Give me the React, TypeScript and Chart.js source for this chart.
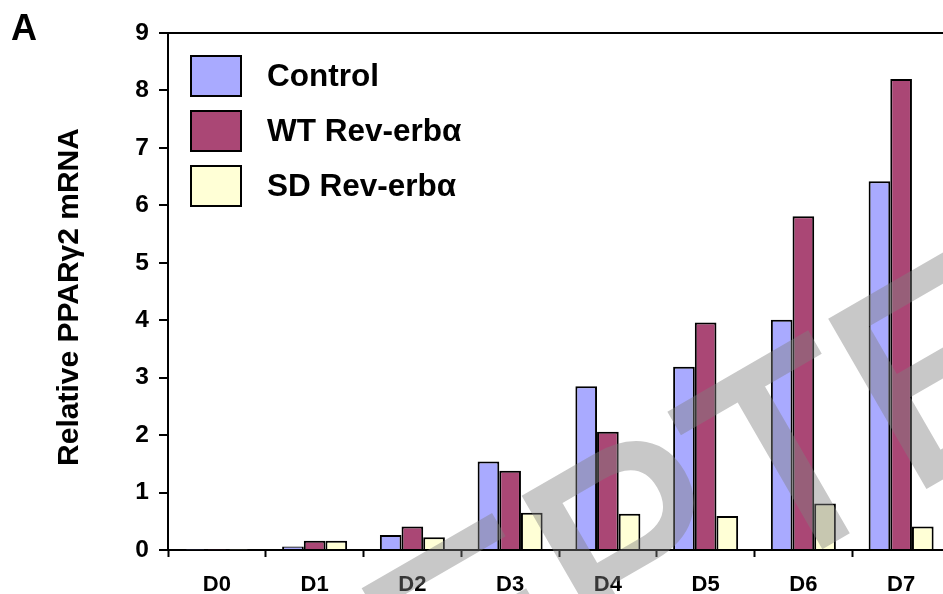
import React, { useEffect, useRef } from "react";
import { Chart, registerables } from "chart.js";

Chart.register(...registerables);

const categories = ["D0", "D1", "D2", "D3", "D4", "D5", "D6", "D7"];
const controlValues = [0.01, 0.06, 0.26, 1.54, 2.85, 3.19, 4.01, 6.42];
const wtValues = [0.01, 0.16, 0.41, 1.38, 2.06, 3.96, 5.81, 8.2];
const sdValues = [0.01, 0.16, 0.22, 0.65, 0.63, 0.59, 0.81, 0.41];
const seriesLabels = ["Control", "WT Rev-erb\u03b1", "SD Rev-erb\u03b1"];
const seriesColors = ["#a9aaff", "#aa4775", "#ffffd6"];
const yTicks = [0, 1, 2, 3, 4, 5, 6, 7, 8, 9];
const yTitle = "Relative PPAR\u03b32 mRNA";
const panelLabel = "A";
const watermark = "ACCEPTED";

const FONT = "'Liberation Sans', Arial, Helvetica, sans-serif";

const overlayPlugin = {
  id: "overlay",
  afterDraw(chart: any) {
    const ctx = chart.ctx;
    const area = chart.chartArea;
    ctx.save();
    // legend
    const boxX = area.left + 23;
    chart.data.datasets.forEach((ds: any, i: number) => {
      const top = area.top + 23 + i * 55;
      ctx.fillStyle = ds.backgroundColor;
      ctx.fillRect(boxX, top, 50, 40);
      ctx.lineWidth = 2;
      ctx.strokeStyle = "#000";
      ctx.strokeRect(boxX, top, 50, 40);
      ctx.fillStyle = "#000";
      ctx.font = `bold 31.5px ${FONT}`;
      ctx.textBaseline = "middle";
      ctx.textAlign = "left";
      ctx.fillText(ds.label, boxX + 76, top + 21);
    });
    // panel label
    ctx.font = `bold 36px ${FONT}`;
    ctx.textBaseline = "alphabetic";
    ctx.textAlign = "left";
    ctx.fillText(panelLabel, 11, 40);
    // y axis title
    ctx.translate(70, 297);
    ctx.rotate(-Math.PI / 2);
    ctx.font = `bold 30px ${FONT}`;
    ctx.textAlign = "center";
    ctx.textBaseline = "middle";
    ctx.fillText(yTitle, 0, 0);
    ctx.restore();

    // watermark: opaque text on an offscreen layer, composited with uniform alpha
    const layer = document.createElement("canvas");
    layer.width = chart.width;
    layer.height = chart.height;
    const lc = layer.getContext("2d");
    if (lc) {
      lc.translate(588, 681);
      lc.rotate((-30 * Math.PI) / 180);
      lc.font = `277px ${FONT}`;
      lc.fillStyle = "#808080";
      lc.strokeStyle = "#808080";
      lc.lineWidth = 6;
      lc.lineJoin = "miter";
      lc.textAlign = "center";
      lc.textBaseline = "alphabetic";
      lc.fillText(watermark, 0, 0);
      lc.strokeText(watermark, 0, 0);
      ctx.save();
      ctx.setTransform(1, 0, 0, 1, 0, 0);
      ctx.globalAlpha = 0.43;
      ctx.drawImage(layer, 0, 0);
      ctx.restore();
    }
  },
};

export default function App() {
  const ref = useRef<HTMLCanvasElement | null>(null);
  useEffect(() => {
    if (!ref.current) return;
    const datasets = [controlValues, wtValues, sdValues].map((d, i) => ({
      label: seriesLabels[i],
      data: d,
      backgroundColor: seriesColors[i],
      borderColor: "#000",
      borderWidth: 2,
      barPercentage: 1,
      categoryPercentage: 0.665,
    }));
    const chart = new Chart(ref.current, {
      type: "bar",
      data: { labels: categories, datasets },
      options: {
        responsive: false,
        animation: false,
        devicePixelRatio: 1,
        layout: { padding: { top: 33, right: 2, bottom: 0, left: 0 } },
        plugins: { legend: { display: false }, tooltip: { enabled: false } },
        scales: {
          x: {
            afterFit: (s: any) => {
              s.height = 44;
            },
            grid: {
              offset: true,
              color: "transparent",
              tickColor: "#000",
              tickLength: 7,
              tickWidth: 2,
            },
            border: { color: "#000", width: 2 },
            ticks: {
              color: "#000",
              padding: 15,
              font: { family: FONT, size: 22, weight: "bold" },
            },
          },
          y: {
            min: 0,
            max: 9,
            afterFit: (s: any) => {
              s.width = 168;
            },
            afterBuildTicks: (s: any) => {
              s.ticks = yTicks.map((v) => ({ value: v }));
            },
            grid: {
              color: (c: any) => (c.tick && c.tick.value === 9 ? "#000" : "transparent"),
              lineWidth: 2,
              tickColor: "#000",
              tickLength: 9,
              tickWidth: 2,
            },
            border: { color: "#000", width: 2 },
            ticks: {
              color: "#000",
              padding: 10,
              font: { family: FONT, size: 24.5, weight: "bold" },
            },
          },
        },
      },
      plugins: [overlayPlugin],
    } as any);
    return () => chart.destroy();
  }, []);
  return (
    <div
      style={{
        position: "absolute",
        left: 0,
        top: 0,
        width: 943,
        height: 594,
        overflow: "hidden",
        background: "#fff",
      }}
    >
      <canvas ref={ref} width={952} height={594} style={{ display: "block" }} />
    </div>
  );
}
